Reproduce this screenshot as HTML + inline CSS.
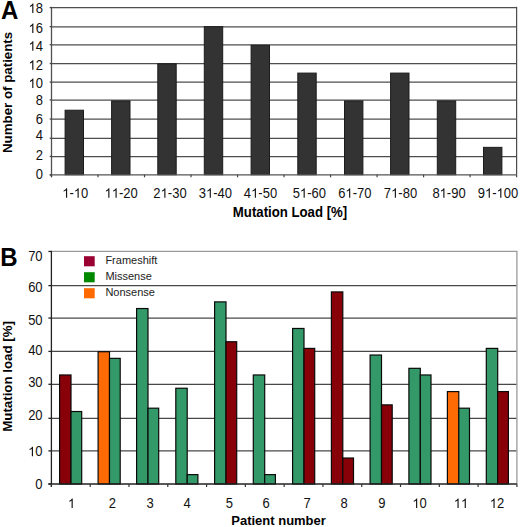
<!DOCTYPE html><html><head><meta charset="utf-8"><title>Mutation load</title><style>html,body{margin:0;padding:0;background:#fff;overflow:hidden;width:520px;height:527px;}svg{display:block;}text{font-family:"Liberation Sans",sans-serif;}</style></head><body>
<svg width="520" height="527" viewBox="0 0 520 527">
<rect width="520" height="527" fill="#fff"/>
<line x1="51.50" y1="7.73" x2="516.60" y2="7.73" stroke="#4e4e4e" stroke-width="1.24"/>
<line x1="51.50" y1="26.78" x2="516.60" y2="26.78" stroke="#4e4e4e" stroke-width="1.24"/>
<line x1="51.50" y1="44.83" x2="516.60" y2="44.83" stroke="#4e4e4e" stroke-width="1.24"/>
<line x1="51.50" y1="63.63" x2="516.60" y2="63.63" stroke="#4e4e4e" stroke-width="1.24"/>
<line x1="51.50" y1="82.23" x2="516.60" y2="82.23" stroke="#4e4e4e" stroke-width="1.24"/>
<line x1="51.50" y1="100.03" x2="516.60" y2="100.03" stroke="#4e4e4e" stroke-width="1.24"/>
<line x1="51.50" y1="119.13" x2="516.60" y2="119.13" stroke="#4e4e4e" stroke-width="1.24"/>
<line x1="51.50" y1="138.33" x2="516.60" y2="138.33" stroke="#4e4e4e" stroke-width="1.24"/>
<line x1="51.50" y1="156.53" x2="516.60" y2="156.53" stroke="#4e4e4e" stroke-width="1.24"/>
<line x1="516.60" y1="6.80" x2="516.60" y2="174.70" stroke="#4e4e4e" stroke-width="1.24"/>
<rect x="65.10" y="110.22" width="18.40" height="64.48" fill="#333" stroke="#1c1c1c" stroke-width="1"/>
<rect x="111.60" y="100.94" width="18.40" height="73.76" fill="#333" stroke="#1c1c1c" stroke-width="1"/>
<rect x="157.80" y="63.80" width="18.40" height="110.90" fill="#333" stroke="#1c1c1c" stroke-width="1"/>
<rect x="204.30" y="26.67" width="18.40" height="148.03" fill="#333" stroke="#1c1c1c" stroke-width="1"/>
<rect x="251.10" y="45.24" width="18.40" height="129.46" fill="#333" stroke="#1c1c1c" stroke-width="1"/>
<rect x="297.80" y="73.09" width="18.40" height="101.61" fill="#333" stroke="#1c1c1c" stroke-width="1"/>
<rect x="344.50" y="100.94" width="18.40" height="73.76" fill="#333" stroke="#1c1c1c" stroke-width="1"/>
<rect x="390.60" y="73.09" width="18.40" height="101.61" fill="#333" stroke="#1c1c1c" stroke-width="1"/>
<rect x="437.30" y="100.94" width="18.40" height="73.76" fill="#333" stroke="#1c1c1c" stroke-width="1"/>
<rect x="483.50" y="147.35" width="18.40" height="27.35" fill="#333" stroke="#1c1c1c" stroke-width="1"/>
<line x1="51.50" y1="6.80" x2="51.50" y2="177.20" stroke="#505050" stroke-width="1.3"/>
<line x1="49.70" y1="174.90" x2="516.60" y2="174.90" stroke="#555" stroke-width="1.4"/>
<line x1="49.70" y1="7.60" x2="51.50" y2="7.60" stroke="#444" stroke-width="1.3"/>
<line x1="49.70" y1="26.65" x2="51.50" y2="26.65" stroke="#444" stroke-width="1.3"/>
<line x1="49.70" y1="44.70" x2="51.50" y2="44.70" stroke="#444" stroke-width="1.3"/>
<line x1="49.70" y1="63.50" x2="51.50" y2="63.50" stroke="#444" stroke-width="1.3"/>
<line x1="49.70" y1="82.10" x2="51.50" y2="82.10" stroke="#444" stroke-width="1.3"/>
<line x1="49.70" y1="99.90" x2="51.50" y2="99.90" stroke="#444" stroke-width="1.3"/>
<line x1="49.70" y1="119.00" x2="51.50" y2="119.00" stroke="#444" stroke-width="1.3"/>
<line x1="49.70" y1="138.20" x2="51.50" y2="138.20" stroke="#444" stroke-width="1.3"/>
<line x1="49.70" y1="156.40" x2="51.50" y2="156.40" stroke="#444" stroke-width="1.3"/>
<line x1="49.70" y1="174.90" x2="51.50" y2="174.90" stroke="#444" stroke-width="1.3"/>
<line x1="51.50" y1="174.70" x2="51.50" y2="177.30" stroke="#444" stroke-width="1.2"/>
<line x1="98.01" y1="174.70" x2="98.01" y2="177.30" stroke="#444" stroke-width="1.2"/>
<line x1="144.52" y1="174.70" x2="144.52" y2="177.30" stroke="#444" stroke-width="1.2"/>
<line x1="191.03" y1="174.70" x2="191.03" y2="177.30" stroke="#444" stroke-width="1.2"/>
<line x1="237.54" y1="174.70" x2="237.54" y2="177.30" stroke="#444" stroke-width="1.2"/>
<line x1="284.05" y1="174.70" x2="284.05" y2="177.30" stroke="#444" stroke-width="1.2"/>
<line x1="330.56" y1="174.70" x2="330.56" y2="177.30" stroke="#444" stroke-width="1.2"/>
<line x1="377.07" y1="174.70" x2="377.07" y2="177.30" stroke="#444" stroke-width="1.2"/>
<line x1="423.58" y1="174.70" x2="423.58" y2="177.30" stroke="#444" stroke-width="1.2"/>
<line x1="470.09" y1="174.70" x2="470.09" y2="177.30" stroke="#444" stroke-width="1.2"/>
<line x1="516.60" y1="174.70" x2="516.60" y2="177.30" stroke="#444" stroke-width="1.2"/>
<path transform="translate(28.540,13.100) scale(0.006348,-0.006528)" d="M763 0L583 0L583 1147Q518 1085 412 1023Q306 961 222 930L222 1104Q373 1175 486 1276Q599 1377 646 1466L763 1466Z" fill="#111"/>
<text transform="translate(0,13.100) scale(1,1.07)" x="35.77" y="0" font-size="13" fill="#111">8</text>
<path transform="translate(28.540,33.100) scale(0.006348,-0.006528)" d="M763 0L583 0L583 1147Q518 1085 412 1023Q306 961 222 930L222 1104Q373 1175 486 1276Q599 1377 646 1466L763 1466Z" fill="#111"/>
<text transform="translate(0,33.100) scale(1,1.07)" x="35.77" y="0" font-size="13" fill="#111">6</text>
<path transform="translate(28.540,50.850) scale(0.006348,-0.006528)" d="M763 0L583 0L583 1147Q518 1085 412 1023Q306 961 222 930L222 1104Q373 1175 486 1276Q599 1377 646 1466L763 1466Z" fill="#111"/>
<text transform="translate(0,50.850) scale(1,1.07)" x="35.77" y="0" font-size="13" fill="#111">4</text>
<path transform="translate(28.540,69.700) scale(0.006348,-0.006528)" d="M763 0L583 0L583 1147Q518 1085 412 1023Q306 961 222 930L222 1104Q373 1175 486 1276Q599 1377 646 1466L763 1466Z" fill="#111"/>
<text transform="translate(0,69.700) scale(1,1.07)" x="35.77" y="0" font-size="13" fill="#111">2</text>
<path transform="translate(28.540,88.100) scale(0.006348,-0.006528)" d="M763 0L583 0L583 1147Q518 1085 412 1023Q306 961 222 930L222 1104Q373 1175 486 1276Q599 1377 646 1466L763 1466Z" fill="#111"/>
<text transform="translate(0,88.100) scale(1,1.07)" x="35.77" y="0" font-size="13" fill="#111">0</text>
<text transform="translate(0,104.950) scale(1,1.07)" x="35.77" y="0" font-size="13" fill="#111">8</text>
<text transform="translate(0,123.800) scale(1,1.07)" x="35.77" y="0" font-size="13" fill="#111">6</text>
<text transform="translate(0,140.450) scale(1,1.07)" x="35.77" y="0" font-size="13" fill="#111">4</text>
<text transform="translate(0,160.100) scale(1,1.07)" x="35.77" y="0" font-size="13" fill="#111">2</text>
<text transform="translate(0,178.700) scale(1,1.07)" x="35.77" y="0" font-size="13" fill="#111">0</text>
<path transform="translate(62.290,197.800) scale(0.006348,-0.006528)" d="M763 0L583 0L583 1147Q518 1085 412 1023Q306 961 222 930L222 1104Q373 1175 486 1276Q599 1377 646 1466L763 1466Z" fill="#111"/>
<path transform="translate(73.850,197.800) scale(0.006348,-0.006528)" d="M763 0L583 0L583 1147Q518 1085 412 1023Q306 961 222 930L222 1104Q373 1175 486 1276Q599 1377 646 1466L763 1466Z" fill="#111"/>
<text transform="translate(0,197.800) scale(1,1.07)" x="69.52 81.08" y="0" font-size="13" fill="#111">-0</text>
<path transform="translate(104.575,197.800) scale(0.006348,-0.006528)" d="M763 0L583 0L583 1147Q518 1085 412 1023Q306 961 222 930L222 1104Q373 1175 486 1276Q599 1377 646 1466L763 1466Z" fill="#111"/>
<path transform="translate(111.805,197.800) scale(0.006348,-0.006528)" d="M763 0L583 0L583 1147Q518 1085 412 1023Q306 961 222 930L222 1104Q373 1175 486 1276Q599 1377 646 1466L763 1466Z" fill="#111"/>
<text transform="translate(0,197.800) scale(1,1.07)" x="119.04 123.36 130.59" y="0" font-size="13" fill="#111">-20</text>
<path transform="translate(160.605,197.800) scale(0.006348,-0.006528)" d="M763 0L583 0L583 1147Q518 1085 412 1023Q306 961 222 930L222 1104Q373 1175 486 1276Q599 1377 646 1466L763 1466Z" fill="#111"/>
<text transform="translate(0,197.800) scale(1,1.07)" x="153.38 167.84 172.16 179.39" y="0" font-size="13" fill="#111">2-30</text>
<path transform="translate(206.005,197.800) scale(0.006348,-0.006528)" d="M763 0L583 0L583 1147Q518 1085 412 1023Q306 961 222 930L222 1104Q373 1175 486 1276Q599 1377 646 1466L763 1466Z" fill="#111"/>
<text transform="translate(0,197.800) scale(1,1.07)" x="198.78 213.24 217.56 224.79" y="0" font-size="13" fill="#111">3-40</text>
<path transform="translate(251.105,197.800) scale(0.006348,-0.006528)" d="M763 0L583 0L583 1147Q518 1085 412 1023Q306 961 222 930L222 1104Q373 1175 486 1276Q599 1377 646 1466L763 1466Z" fill="#111"/>
<text transform="translate(0,197.800) scale(1,1.07)" x="243.88 258.34 262.66 269.89" y="0" font-size="13" fill="#111">4-50</text>
<path transform="translate(299.905,197.800) scale(0.006348,-0.006528)" d="M763 0L583 0L583 1147Q518 1085 412 1023Q306 961 222 930L222 1104Q373 1175 486 1276Q599 1377 646 1466L763 1466Z" fill="#111"/>
<text transform="translate(0,197.800) scale(1,1.07)" x="292.68 307.14 311.46 318.69" y="0" font-size="13" fill="#111">5-60</text>
<path transform="translate(345.405,197.800) scale(0.006348,-0.006528)" d="M763 0L583 0L583 1147Q518 1085 412 1023Q306 961 222 930L222 1104Q373 1175 486 1276Q599 1377 646 1466L763 1466Z" fill="#111"/>
<text transform="translate(0,197.800) scale(1,1.07)" x="338.18 352.64 356.96 364.19" y="0" font-size="13" fill="#111">6-70</text>
<path transform="translate(391.105,197.800) scale(0.006348,-0.006528)" d="M763 0L583 0L583 1147Q518 1085 412 1023Q306 961 222 930L222 1104Q373 1175 486 1276Q599 1377 646 1466L763 1466Z" fill="#111"/>
<text transform="translate(0,197.800) scale(1,1.07)" x="383.88 398.34 402.66 409.89" y="0" font-size="13" fill="#111">7-80</text>
<path transform="translate(439.605,197.800) scale(0.006348,-0.006528)" d="M763 0L583 0L583 1147Q518 1085 412 1023Q306 961 222 930L222 1104Q373 1175 486 1276Q599 1377 646 1466L763 1466Z" fill="#111"/>
<text transform="translate(0,197.800) scale(1,1.07)" x="432.38 446.84 451.16 458.39" y="0" font-size="13" fill="#111">8-90</text>
<path transform="translate(484.990,197.800) scale(0.006348,-0.006528)" d="M763 0L583 0L583 1147Q518 1085 412 1023Q306 961 222 930L222 1104Q373 1175 486 1276Q599 1377 646 1466L763 1466Z" fill="#111"/>
<path transform="translate(496.550,197.800) scale(0.006348,-0.006528)" d="M763 0L583 0L583 1147Q518 1085 412 1023Q306 961 222 930L222 1104Q373 1175 486 1276Q599 1377 646 1466L763 1466Z" fill="#111"/>
<text transform="translate(0,197.800) scale(1,1.07)" x="477.76 492.22 503.78 511.01" y="0" font-size="13" fill="#111">9-00</text>
<text transform="translate(290,216.5) scale(1,1.04)" font-size="13.2" font-weight="bold" text-anchor="middle" fill="#000">Mutation Load [%]</text>
<text transform="translate(11.6,92.4) rotate(-90)" font-size="13.3" font-weight="bold" text-anchor="middle" fill="#000">Number of patients</text>
<text transform="translate(1,19) scale(1,1.04)" font-size="24" font-weight="bold" fill="#000">A</text>
<line x1="51.40" y1="285.60" x2="516.90" y2="285.60" stroke="#484848" stroke-width="1.24"/>
<line x1="51.40" y1="318.05" x2="516.90" y2="318.05" stroke="#484848" stroke-width="1.24"/>
<line x1="51.40" y1="351.40" x2="516.90" y2="351.40" stroke="#484848" stroke-width="1.24"/>
<line x1="51.40" y1="384.30" x2="516.90" y2="384.30" stroke="#484848" stroke-width="1.24"/>
<line x1="51.40" y1="418.30" x2="516.90" y2="418.30" stroke="#484848" stroke-width="1.24"/>
<line x1="51.40" y1="450.90" x2="516.90" y2="450.90" stroke="#484848" stroke-width="1.24"/>
<path d="M51.40 251.45 H516.90 V484.00" fill="none" stroke="#9a9a9a" stroke-width="1.3"/>
<rect x="84" y="256.20" width="10.7" height="10.1" fill="#9a0032"/>
<text x="105.4" y="264.30" font-size="11" fill="#222">Frameshift</text>
<rect x="84" y="272.20" width="10.7" height="10.1" fill="#008800"/>
<text x="105.4" y="280.30" font-size="11" fill="#222">Missense</text>
<rect x="84" y="288.20" width="10.7" height="10.1" fill="#ff6a00"/>
<text x="105.4" y="296.30" font-size="11" fill="#222">Nonsense</text>
<rect x="59.60" y="374.97" width="11.40" height="109.03" fill="#880008" stroke="#0a0a0a" stroke-width="1.2"/>
<rect x="71.00" y="411.52" width="10.70" height="72.48" fill="#339968" stroke="#0a0a0a" stroke-width="1.2"/>
<rect x="98.10" y="351.72" width="11.40" height="132.28" fill="#fe6a04" stroke="#0a0a0a" stroke-width="1.2"/>
<rect x="109.50" y="358.36" width="10.70" height="125.64" fill="#339968" stroke="#0a0a0a" stroke-width="1.2"/>
<rect x="136.60" y="308.53" width="11.40" height="175.47" fill="#339968" stroke="#0a0a0a" stroke-width="1.2"/>
<rect x="148.00" y="408.19" width="10.70" height="75.81" fill="#339968" stroke="#0a0a0a" stroke-width="1.2"/>
<rect x="175.80" y="388.26" width="11.40" height="95.74" fill="#339968" stroke="#0a0a0a" stroke-width="1.2"/>
<rect x="187.20" y="474.63" width="10.70" height="9.37" fill="#339968" stroke="#0a0a0a" stroke-width="1.2"/>
<rect x="214.60" y="301.89" width="11.40" height="182.11" fill="#339968" stroke="#0a0a0a" stroke-width="1.2"/>
<rect x="226.00" y="341.75" width="10.70" height="142.25" fill="#880008" stroke="#0a0a0a" stroke-width="1.2"/>
<rect x="253.30" y="374.97" width="11.40" height="109.03" fill="#339968" stroke="#0a0a0a" stroke-width="1.2"/>
<rect x="264.70" y="474.63" width="10.70" height="9.37" fill="#339968" stroke="#0a0a0a" stroke-width="1.2"/>
<rect x="292.60" y="328.47" width="11.40" height="155.53" fill="#339968" stroke="#0a0a0a" stroke-width="1.2"/>
<rect x="304.00" y="348.40" width="10.70" height="135.60" fill="#880008" stroke="#0a0a0a" stroke-width="1.2"/>
<rect x="331.40" y="291.92" width="11.40" height="192.08" fill="#880008" stroke="#0a0a0a" stroke-width="1.2"/>
<rect x="342.80" y="458.02" width="10.70" height="25.98" fill="#880008" stroke="#0a0a0a" stroke-width="1.2"/>
<rect x="370.10" y="355.04" width="11.40" height="128.96" fill="#339968" stroke="#0a0a0a" stroke-width="1.2"/>
<rect x="381.50" y="404.87" width="10.70" height="79.13" fill="#880008" stroke="#0a0a0a" stroke-width="1.2"/>
<rect x="408.90" y="368.33" width="11.40" height="115.67" fill="#339968" stroke="#0a0a0a" stroke-width="1.2"/>
<rect x="420.30" y="374.97" width="10.70" height="109.03" fill="#339968" stroke="#0a0a0a" stroke-width="1.2"/>
<rect x="447.40" y="391.58" width="11.40" height="92.42" fill="#fe6a04" stroke="#0a0a0a" stroke-width="1.2"/>
<rect x="458.80" y="408.19" width="10.70" height="75.81" fill="#339968" stroke="#0a0a0a" stroke-width="1.2"/>
<rect x="486.30" y="348.40" width="11.40" height="135.60" fill="#339968" stroke="#0a0a0a" stroke-width="1.2"/>
<rect x="497.70" y="391.58" width="10.70" height="92.42" fill="#880008" stroke="#0a0a0a" stroke-width="1.2"/>
<line x1="51.40" y1="250.85" x2="51.40" y2="487.00" stroke="#222" stroke-width="1.3"/>
<line x1="48.40" y1="484.00" x2="516.90" y2="484.00" stroke="#222" stroke-width="1.3"/>
<line x1="48.40" y1="251.45" x2="51.40" y2="251.45" stroke="#222" stroke-width="1.3"/>
<line x1="48.40" y1="285.60" x2="51.40" y2="285.60" stroke="#222" stroke-width="1.3"/>
<line x1="48.40" y1="318.05" x2="51.40" y2="318.05" stroke="#222" stroke-width="1.3"/>
<line x1="48.40" y1="351.40" x2="51.40" y2="351.40" stroke="#222" stroke-width="1.3"/>
<line x1="48.40" y1="384.30" x2="51.40" y2="384.30" stroke="#222" stroke-width="1.3"/>
<line x1="48.40" y1="418.30" x2="51.40" y2="418.30" stroke="#222" stroke-width="1.3"/>
<line x1="48.40" y1="450.90" x2="51.40" y2="450.90" stroke="#222" stroke-width="1.3"/>
<line x1="48.40" y1="484.00" x2="51.40" y2="484.00" stroke="#222" stroke-width="1.3"/>
<line x1="51.40" y1="484.00" x2="51.40" y2="487.00" stroke="#333" stroke-width="1.2"/>
<line x1="90.19" y1="484.00" x2="90.19" y2="487.00" stroke="#333" stroke-width="1.2"/>
<line x1="128.98" y1="484.00" x2="128.98" y2="487.00" stroke="#333" stroke-width="1.2"/>
<line x1="167.78" y1="484.00" x2="167.78" y2="487.00" stroke="#333" stroke-width="1.2"/>
<line x1="206.57" y1="484.00" x2="206.57" y2="487.00" stroke="#333" stroke-width="1.2"/>
<line x1="245.36" y1="484.00" x2="245.36" y2="487.00" stroke="#333" stroke-width="1.2"/>
<line x1="284.15" y1="484.00" x2="284.15" y2="487.00" stroke="#333" stroke-width="1.2"/>
<line x1="322.94" y1="484.00" x2="322.94" y2="487.00" stroke="#333" stroke-width="1.2"/>
<line x1="361.73" y1="484.00" x2="361.73" y2="487.00" stroke="#333" stroke-width="1.2"/>
<line x1="400.52" y1="484.00" x2="400.52" y2="487.00" stroke="#333" stroke-width="1.2"/>
<line x1="439.32" y1="484.00" x2="439.32" y2="487.00" stroke="#333" stroke-width="1.2"/>
<line x1="478.11" y1="484.00" x2="478.11" y2="487.00" stroke="#333" stroke-width="1.2"/>
<line x1="516.90" y1="484.00" x2="516.90" y2="487.00" stroke="#333" stroke-width="1.2"/>
<text transform="translate(0,260.650) scale(1,1.07)" x="28.14 35.37" y="0" font-size="13" fill="#111">70</text>
<text transform="translate(0,291.800) scale(1,1.07)" x="28.14 35.37" y="0" font-size="13" fill="#111">60</text>
<text transform="translate(0,324.800) scale(1,1.07)" x="28.14 35.37" y="0" font-size="13" fill="#111">50</text>
<text transform="translate(0,355.300) scale(1,1.07)" x="28.14 35.37" y="0" font-size="13" fill="#111">40</text>
<text transform="translate(0,386.800) scale(1,1.07)" x="28.14 35.37" y="0" font-size="13" fill="#111">30</text>
<text transform="translate(0,419.800) scale(1,1.07)" x="28.14 35.37" y="0" font-size="13" fill="#111">20</text>
<path transform="translate(28.140,456.250) scale(0.006348,-0.006528)" d="M763 0L583 0L583 1147Q518 1085 412 1023Q306 961 222 930L222 1104Q373 1175 486 1276Q599 1377 646 1466L763 1466Z" fill="#111"/>
<text transform="translate(0,456.250) scale(1,1.07)" x="35.37" y="0" font-size="13" fill="#111">0</text>
<text transform="translate(0,488.750) scale(1,1.07)" x="35.37" y="0" font-size="13" fill="#111">0</text>
<path transform="translate(67.885,508.000) scale(0.006348,-0.006528)" d="M763 0L583 0L583 1147Q518 1085 412 1023Q306 961 222 930L222 1104Q373 1175 486 1276Q599 1377 646 1466L763 1466Z" fill="#111"/>
<text transform="translate(0,508.000) scale(1,1.07)" x="108.89" y="0" font-size="13" fill="#111">2</text>
<text transform="translate(0,508.000) scale(1,1.07)" x="146.39" y="0" font-size="13" fill="#111">3</text>
<text transform="translate(0,508.000) scale(1,1.07)" x="183.39" y="0" font-size="13" fill="#111">4</text>
<text transform="translate(0,508.000) scale(1,1.07)" x="225.69" y="0" font-size="13" fill="#111">5</text>
<text transform="translate(0,508.000) scale(1,1.07)" x="262.39" y="0" font-size="13" fill="#111">6</text>
<text transform="translate(0,508.000) scale(1,1.07)" x="303.39" y="0" font-size="13" fill="#111">7</text>
<text transform="translate(0,508.000) scale(1,1.07)" x="340.49" y="0" font-size="13" fill="#111">8</text>
<text transform="translate(0,508.000) scale(1,1.07)" x="378.19" y="0" font-size="13" fill="#111">9</text>
<path transform="translate(412.370,508.000) scale(0.006348,-0.006528)" d="M763 0L583 0L583 1147Q518 1085 412 1023Q306 961 222 930L222 1104Q373 1175 486 1276Q599 1377 646 1466L763 1466Z" fill="#111"/>
<text transform="translate(0,508.000) scale(1,1.07)" x="419.60" y="0" font-size="13" fill="#111">0</text>
<path transform="translate(453.770,508.000) scale(0.006348,-0.006528)" d="M763 0L583 0L583 1147Q518 1085 412 1023Q306 961 222 930L222 1104Q373 1175 486 1276Q599 1377 646 1466L763 1466Z" fill="#111"/>
<path transform="translate(461.000,508.000) scale(0.006348,-0.006528)" d="M763 0L583 0L583 1147Q518 1085 412 1023Q306 961 222 930L222 1104Q373 1175 486 1276Q599 1377 646 1466L763 1466Z" fill="#111"/>
<path transform="translate(489.770,508.000) scale(0.006348,-0.006528)" d="M763 0L583 0L583 1147Q518 1085 412 1023Q306 961 222 930L222 1104Q373 1175 486 1276Q599 1377 646 1466L763 1466Z" fill="#111"/>
<text transform="translate(0,508.000) scale(1,1.07)" x="497.00" y="0" font-size="13" fill="#111">2</text>
<text transform="translate(231.3,525) scale(1,1.04)" font-size="13" font-weight="bold" fill="#000">Patient number</text>
<text transform="translate(11.7,376.4) rotate(-90)" font-size="13.3" font-weight="bold" text-anchor="middle" fill="#000">Mutation load [%]</text>
<text transform="translate(0.2,265.6) scale(1,1.04)" font-size="24" font-weight="bold" fill="#000">B</text>
</svg></body></html>
